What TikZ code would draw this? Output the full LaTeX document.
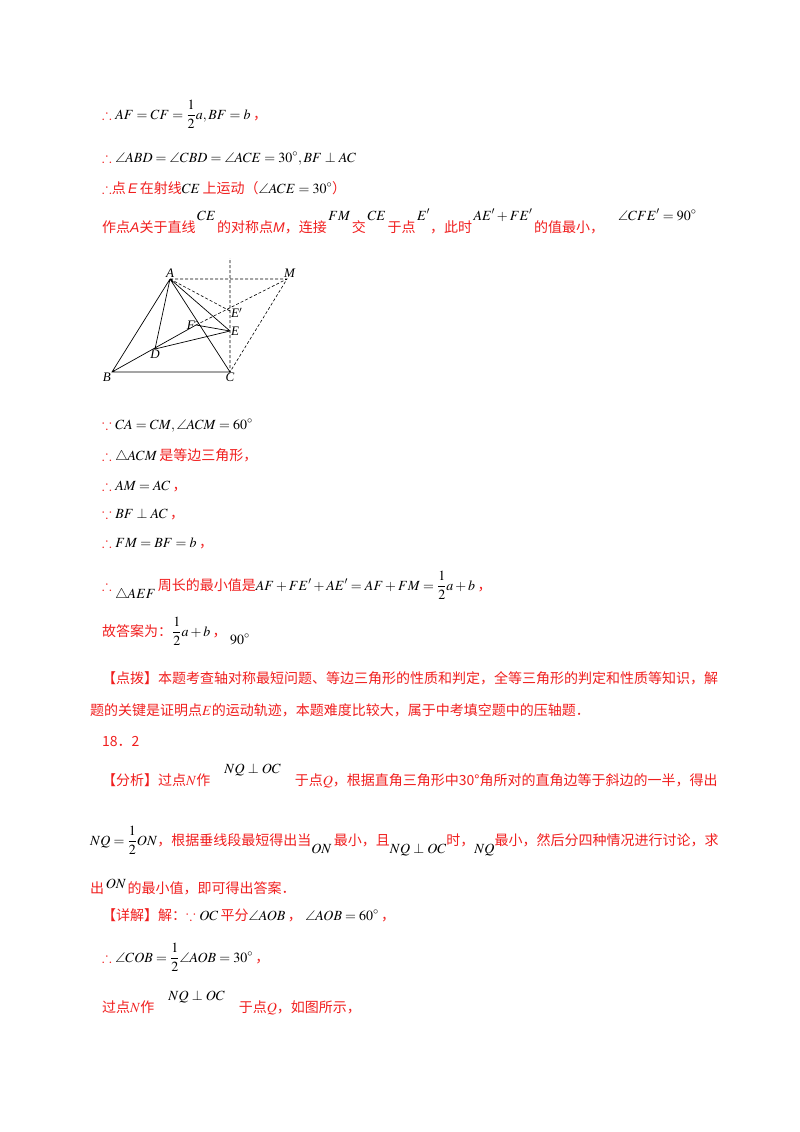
\documentclass[tikz,border=0pt]{standalone}
\usepackage{amsmath,amssymb}
\usepackage{mathptmx}
\usepackage{fontspec}
\usetikzlibrary{calc}
\setmainfont{Liberation Serif}
\newfontfamily\cjk{Noto Sans CJK SC}
\newfontfamily\cjksi{Liberation Sans}
\definecolor{rd}{RGB}{240,30,30}
\newcommand{\R}[1]{{\color{rd}\cjk #1}}
\newcommand{\Up}[1]{\raisebox{12pt}{$#1$}}
\newcommand{\Dn}[1]{\raisebox{-8pt}{$#1$}}
\newcommand{\Th}{{\color{rd}\Large$\therefore$}}
\newcommand{\Bc}{{\color{rd}\Large$\because$}}
\newcommand{\It}[1]{{\color{rd}\cjksi\itshape #1}}
\tikzset{ln/.style={anchor=base west,inner sep=0pt,font=\fontsize{14}{16}\selectfont},
 pt/.style={font=\fontsize{13}{15}\selectfont\itshape,inner sep=1pt},
 geo/.style={line width=0.7pt},
 dsh/.style={line width=0.6pt,dash pattern=on 3pt off 2pt}}
\begin{document}
\begin{tikzpicture}[x=1pt,y=-1pt]
\useasboundingbox (0,0) rectangle (800,1132);
\node[ln] (l1) at (102,119) {\Th\ $AF=CF=\dfrac12 a, BF=b$\,\R{，}};
\node[ln] (l2) at (102,162) {\Th\ $\angle ABD=\angle CBD=\angle ACE=30^\circ, BF\perp AC$};
\node[ln] (l3) at (102,193) {\Th\R{点}\,\It{E}\,\R{在射线}$CE$\,\R{上运动（}$\angle ACE=30^\circ$\R{）}};
\node[ln] (l4) at (102,232) {\R{作点}\It{A}\R{关于直线}\Up{\,CE\,}\R{的对称点}\It{M}\R{，连接}\Up{\,FM\,}\R{交}\Up{\,CE\,}\R{于点}\Up{\,E'}\R{，此时}\Up{\,AE'+FE'\,}\R{的值最小，}\Up{\quad\angle CFE'=90^\circ}};
% figure
\coordinate (A) at (170,279); \coordinate (M) at (287,279);
\coordinate (Ep) at (230,311); \coordinate (E) at (230,331);
\coordinate (F) at (196,325); \coordinate (D) at (155,349);
\coordinate (B) at (112,372); \coordinate (C) at (230,372);
\coordinate (T) at (230,258);
\draw[geo] (A)--(B)--(C)--(A) (A)--(D) (A)--(E) (B)--(F) (D)--(E) (F)--(E);
\draw[dsh] (A)--(M)--(C)--(T) (A)--(Ep) (F)--(M);
\draw[line width=0.4pt] ($(F)!3pt!(A)$) -- ($(F)!3pt!(A)+(F)!3pt!(M)-(F)$) -- ($(F)!3pt!(M)$);
\node[pt,anchor=south] (nA) at (A) {A};
\node[pt,anchor=west] (nM) at ($(M)+(-4,-6)$) {M};
\node[pt,anchor=west] (nEp) at ($(Ep)+(0,2)$) {E$'$};
\node[pt,anchor=west] (nE) at (E) {E};
\node[pt,anchor=east] (nF) at (F) {F};
\node[pt,anchor=north] (nD) at (D) {D};
\node[pt,anchor=north east] (nB) at (B) {B};
\node[pt,anchor=north] (nC) at (C) {C};
%
\node[ln] (l5) at (102,429) {\Bc\ $CA=CM, \angle ACM=60^\circ$};
\node[ln] (l6) at (102,460) {\Th\ $\triangle ACM$\,\R{是等边三角形，}};
\node[ln] (l7) at (102,490) {\Th\ $AM=AC$\,\R{，}};
\node[ln] (l8) at (102,518) {\Bc\ $BF\perp AC$\,\R{，}};
\node[ln] (l9) at (102,547) {\Th\ $FM=BF=b$\,\R{，}};
\node[ln] (l10) at (102,590) {\Th\ \Dn{\triangle AEF}\,\R{周长的最小值是}$AF+FE'+AE'=AF+FM=\dfrac12 a+b$\,\R{，}};
\node[ln] (l11) at (102,636) {\R{故答案为：}$\dfrac12 a+b$\,\R{，}\Dn{\ 90^\circ}};
\node[ln] (l12) at (102,683) {\R{【点拨】本题考查轴对称最短问题、等边三角形的性质和判定，全等三角形的判定和性质等知识，解}};
\node[ln] (l13) at (90,715) {\R{题的关键是证明点}{\color{rd}$E$}\R{的运动轨迹，本题难度比较大，属于中考填空题中的压轴题．}};
\node[ln] (l14) at (102,746) {\R{18．2}};
\node[ln] (l15) at (102,785) {\R{【分析】过点}{\color{rd}$N$}\R{作}\Up{\quad NQ\perp OC\quad}\R{于点}{\color{rd}$Q$}\R{，根据直角三角形中30°角所对的直角边等于斜边的一半，得出}};
\node[ln] (l16) at (90,845) {$NQ=\dfrac12 ON$\R{，根据垂线段最短得出当}\Dn{ON}\,\R{最小，且}\Dn{NQ\perp OC}\R{时，}\Dn{NQ}\R{最小，然后分四种情况进行讨论，求}};
\node[ln] (l17) at (90,893) {\R{出}\raisebox{5pt}{$\,ON\,$}\R{的最小值，即可得出答案．}};
\node[ln] (l18) at (102,920) {\R{【详解】解：}\Bc\ $OC$\,\R{平分}$\angle AOB$\,\R{，}$\ \angle AOB=60^\circ$\,\R{，}};
\node[ln] (l19) at (102,962) {\Th\ $\angle COB=\dfrac12\angle AOB=30^\circ$\,\R{，}};
\node[ln] (l20) at (102,1012) {\R{过点}{\color{rd}$N$}\R{作}\Up{\quad NQ\perp OC\quad}\R{于点}{\color{rd}$Q$}\R{，如图所示，}};
\end{tikzpicture}
\end{document}
